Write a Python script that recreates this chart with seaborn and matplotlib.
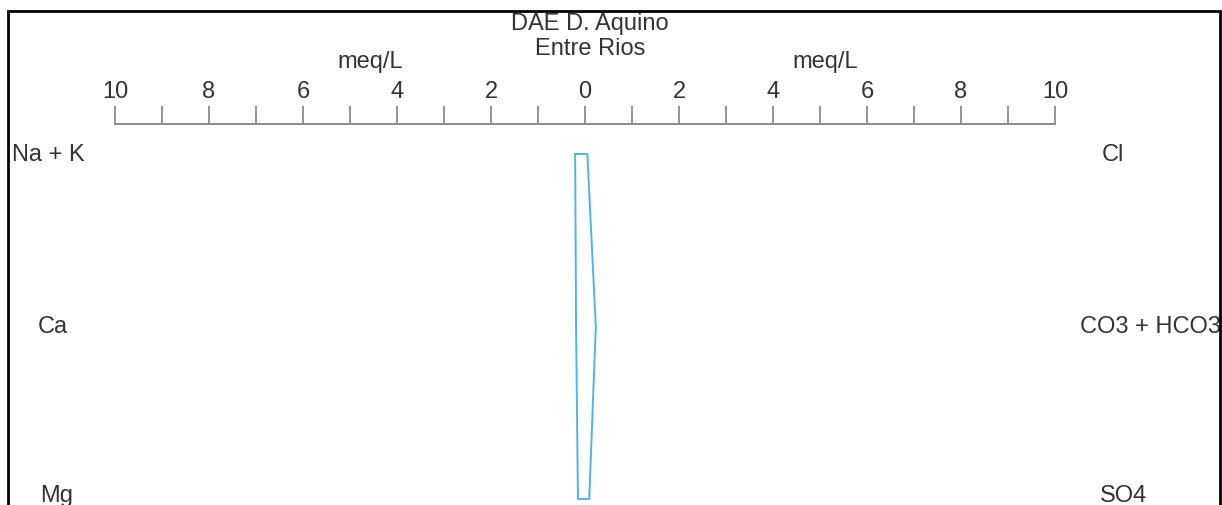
import matplotlib
matplotlib.use("Agg")
import matplotlib.pyplot as plt
from matplotlib.patches import Rectangle
import numpy as np
import pandas as pd
import seaborn as sns

# Stiff diagram: major ions in meq/L
title_lines = ["DAE D. Aquino", "Entre Rios"]
cations = ["Na + K", "Ca", "Mg"]
cation_meq = [0.21, 0.19, 0.15]
anions = ["Cl", "CO3 + HCO3", "SO4"]
anion_meq = [0.05, 0.23, 0.09]
scale_max = 10
unit_label = "meq/L"

sns.set_theme(style="white")
plt.rcParams["font.family"] = ["Liberation Sans", "DejaVu Sans"]

W, H = 1222, 506
fig = plt.figure(figsize=(W / 100, H / 100), dpi=100)

def fx(px):
    return px / W

def fy(py):
    return 1 - py / H

# Axes: top spine carries the meq/L scale, rows run downward
x_left, x_right, y_top = 115, 1055, 125
ax = fig.add_axes([fx(x_left), 0, fx(x_right) - fx(x_left), fy(y_top)])
row_top, row_step = 155, 172.5
ax.set_xlim(-scale_max, scale_max)
ax.set_ylim((H - row_top) / row_step, (y_top - row_top) / row_step)
ax.patch.set_alpha(0)

for side in ["left", "right", "bottom"]:
    ax.spines[side].set_visible(False)
ax.spines["top"].set_color("#8a8a8a")
ax.spines["top"].set_linewidth(1.4)

major = np.arange(-scale_max, scale_max + 1, 2)
ax.set_xticks(major)
ax.set_xticklabels([str(abs(int(v))) for v in major])
ax.set_xticks(np.arange(-scale_max, scale_max + 1, 1), minor=True)
ax.set_yticks([])
ax.tick_params(axis="x", which="both", top=True, bottom=False, labeltop=True,
               labelbottom=False, direction="out", length=13, width=1.3,
               color="#8a8a8a", pad=2.5)
ax.tick_params(axis="x", which="major", labelsize=17, labelcolor="#333333")

# Closed outline: cations to the left, anions to the right
rows = list(range(len(cations)))
xs = [-v for v in cation_meq] + anion_meq[::-1] + [-cation_meq[0]]
ys = rows + rows[::-1] + [rows[0]]
poly = pd.DataFrame({"meq": xs, "row": ys})
sns.lineplot(data=poly, x="meq", y="row", sort=False, estimator=None,
             color="#4fb3ea", linewidth=1.4, ax=ax)
ax.set_xlabel("")
ax.set_ylabel("")

text_kw = dict(fontsize=17, color="#333333", va="center")

# Ion names beside each row
left_pos = [(12, 155), (38, 327), (40, 496)]
right_pos = [(1102, 155), (1080, 327), (1100, 496)]
for name, (px, py) in zip(cations, left_pos):
    fig.text(fx(px), fy(py), name, ha="left", **text_kw)
for name, (px, py) in zip(anions, right_pos):
    fig.text(fx(px), fy(py), name, ha="left", **text_kw)

# Title and unit captions
fig.text(fx(590), fy(24), title_lines[0], ha="center", **text_kw)
fig.text(fx(590), fy(49), title_lines[1], ha="center", **text_kw)
fig.text(fx(370), fy(62), unit_label, ha="center", **text_kw)
fig.text(fx(825), fy(62), unit_label, ha="center", **text_kw)

# Outer frame
frame = Rectangle((fx(8), fy(540)), fx(1220) - fx(8), fy(12) - fy(540),
                  transform=fig.transFigure, fill=False, edgecolor="black",
                  linewidth=2.0, zorder=10)
fig.patches.append(frame)

fig.savefig("out.png", dpi=100, facecolor="white")
